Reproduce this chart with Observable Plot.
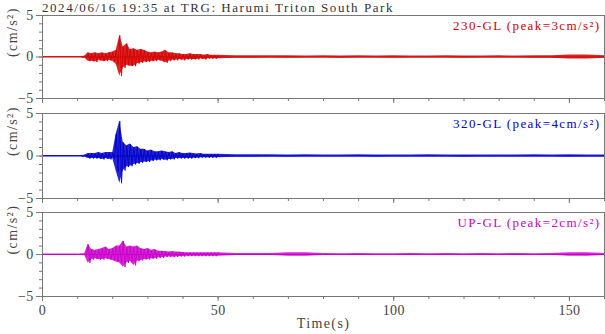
<!DOCTYPE html>
<html>
<head>
<meta charset="utf-8">
<script src="https://cdn.jsdelivr.net/npm/d3@7"></script>
<script src="https://cdn.jsdelivr.net/npm/@observablehq/plot@0.6"></script>
<style>
  html, body { margin: 0; padding: 0; background: #fff; }
  #wrap { position: relative; width: 605px; height: 334px; }
  #wrap svg { position: absolute; left: 0; overflow: visible; }
  #wrap svg text { letter-spacing: 1.4px; font-family: 'Liberation Serif', 'DejaVu Serif', serif; }
  #wrap svg g[aria-label$="tick label"] text { letter-spacing: 0.3px; font-size: 14px; }
  #title { position: absolute; left: 42px; top: 0px; line-height: 13px; font: 13px 'Liberation Serif', 'DejaVu Serif', serif; letter-spacing: 1.55px; color: #333; white-space: nowrap; }
</style>
</head>
<body>
<div id="wrap"><div id="title">2024/06/16 19:35 at TRG: Harumi Triton South Park</div></div>
<script>
// Sample times (s)
const times = [0, 5, 10, 11, 12, 13, 14, 15, 16, 17, 18, 19, 20, 21, 22, 23, 24, 25, 26, 27, 28, 29, 30,
  31, 32, 33, 34, 35, 36, 37, 38, 39, 40, 41, 42, 43, 44, 45, 46, 47, 48, 49, 50,
  55, 60, 65, 70, 75, 80, 85, 90, 95, 100, 105, 110, 115, 120, 125, 130, 135, 140, 145, 150, 155, 160];

// 230-GL envelope (cm/s^2)
const upper230 = [0.05, 0.05, 0.05, 0.05, 0.1, 0.5, 0.4, 0.5, 0.4, 0.5, 0.4, 0.5, 0.6, 0.8, 2.6, 1.2, 1.6, 0.9, 1.0, 0.8, 0.9, 0.8, 0.6,
  0.5, 0.6, 0.5, 0.6, 0.8, 0.5, 0.5, 0.4, 0.4, 0.3, 0.3, 0.4, 0.3, 0.3, 0.3, 0.2, 0.3, 0.2, 0.2, 0.2,
  0.15, 0.15, 0.15, 0.15, 0.12, 0.15, 0.12, 0.15, 0.12, 0.15, 0.12, 0.12, 0.15, 0.12, 0.12, 0.15, 0.12, 0.15, 0.15, 0.25, 0.25, 0.15];
const lower230 = [-0.05, -0.05, -0.05, -0.05, -0.1, -0.5, -0.5, -0.6, -0.4, -0.5, -0.5, -0.4, -0.5, -0.9, -2.3, -1.3, -1.0, -1.1, -1.1, -0.8, -0.7, -0.6, -0.6,
  -0.5, -0.5, -0.4, -0.5, -0.7, -0.5, -0.4, -0.4, -0.3, -0.4, -0.3, -0.3, -0.3, -0.3, -0.2, -0.3, -0.2, -0.2, -0.2, -0.2,
  -0.15, -0.15, -0.12, -0.15, -0.12, -0.12, -0.15, -0.12, -0.12, -0.15, -0.12, -0.12, -0.12, -0.15, -0.12, -0.12, -0.12, -0.15, -0.15, -0.25, -0.25, -0.15];

// 320-GL envelope
const upper320 = [0.05, 0.05, 0.05, 0.05, 0.1, 0.3, 0.3, 0.3, 0.4, 0.3, 0.4, 0.4, 0.4, 2.6, 4.1, 1.6, 1.2, 1.4, 1.0, 1.1, 0.8, 0.8, 0.6,
  0.7, 0.5, 0.5, 0.6, 0.5, 0.4, 0.5, 0.3, 0.4, 0.3, 0.3, 0.35, 0.3, 0.25, 0.3, 0.2, 0.2, 0.2, 0.2, 0.2,
  0.15, 0.15, 0.15, 0.12, 0.15, 0.12, 0.12, 0.15, 0.12, 0.12, 0.12, 0.15, 0.12, 0.12, 0.12, 0.12, 0.12, 0.15, 0.12, 0.15, 0.12, 0.12];
const lower320 = [-0.05, -0.05, -0.05, -0.05, -0.1, -0.3, -0.3, -0.3, -0.3, -0.4, -0.3, -0.4, -0.3, -1.8, -3.2, -1.7, -1.3, -1.2, -1.0, -0.9, -0.8, -0.7, -0.7,
  -0.6, -0.5, -0.5, -0.4, -0.5, -0.4, -0.4, -0.3, -0.3, -0.3, -0.3, -0.3, -0.25, -0.25, -0.2, -0.2, -0.2, -0.2, -0.2, -0.2,
  -0.15, -0.15, -0.12, -0.15, -0.12, -0.12, -0.12, -0.12, -0.15, -0.12, -0.12, -0.12, -0.12, -0.15, -0.12, -0.12, -0.12, -0.12, -0.12, -0.15, -0.12, -0.12];

// UP-GL envelope
const upperUP = [0.05, 0.05, 0.05, 0.05, 0.1, 1.2, 0.6, 0.5, 0.6, 0.7, 0.9, 0.6, 0.7, 1.0, 1.0, 1.6, 0.9, 1.0, 0.9, 1.0, 0.7, 0.6, 0.7,
  0.5, 0.6, 0.4, 0.4, 0.35, 0.3, 0.35, 0.3, 0.3, 0.25, 0.2, 0.2, 0.2, 0.2, 0.2, 0.2, 0.2, 0.2, 0.2, 0.2,
  0.12, 0.12, 0.12, 0.2, 0.2, 0.12, 0.1, 0.12, 0.1, 0.1, 0.12, 0.1, 0.12, 0.1, 0.12, 0.1, 0.12, 0.1, 0.12, 0.2, 0.2, 0.12];
const lowerUP = [-0.05, -0.05, -0.05, -0.05, -0.1, -1.0, -0.6, -0.5, -0.6, -0.6, -0.5, -0.6, -0.7, -0.9, -1.0, -1.5, -1.0, -0.8, -1.3, -0.8, -0.7, -0.6, -0.6,
  -0.5, -0.5, -0.4, -0.4, -0.3, -0.3, -0.3, -0.3, -0.25, -0.25, -0.2, -0.2, -0.2, -0.2, -0.2, -0.2, -0.2, -0.2, -0.2, -0.2,
  -0.12, -0.12, -0.12, -0.2, -0.2, -0.12, -0.1, -0.1, -0.12, -0.1, -0.1, -0.12, -0.1, -0.1, -0.12, -0.1, -0.1, -0.12, -0.1, -0.2, -0.2, -0.12];

const labels = ["230-GL (peak=3cm/s²)", "320-GL (peak=4cm/s²)", "UP-GL (peak=2cm/s²)"];
const colors = ["#d40000", "#0000cc", "#cc00cc"];
const yMajor = [-5, 0, 5];
const yMinor = d3.range(-5, 6, 1);
const xMinor = d3.range(0, 161, 10);
const xMajor = [0, 50, 100, 150];

const font = "'Liberation Serif', 'DejaVu Serif', serif";
const panels = [
  {up: upper230, lo: lower230, top: 0, height: 105, mb: 7},
  {up: upper320, lo: lower320, top: 98, height: 107, mb: 7},
  {up: upperUP, lo: lowerUP, top: 197, height: 137, mb: 38}
];

const wrap = document.getElementById("wrap");
panels.forEach((p, k) => {
  const env = times.map((t, i) => ({t, up: p.up[i], lo: p.lo[i]}));
  const zig = [];
  times.forEach((t, i) => {
    const dt = i < times.length - 1 ? times[i + 1] - t : 0;
    if (t < 11 || t > 50) return;
    zig.push({t, v: p.up[i]});
    if (dt > 0 && dt <= 1) zig.push({t: t + dt / 2, v: p.lo[i]});
  });
  const last = k === 2;
  const chart = Plot.plot({
    width: 605,
    height: p.height,
    marginLeft: 42,
    marginRight: 1,
    marginTop: 15,
    marginBottom: p.mb,
    style: {fontFamily: font, fontSize: "14px", color: "#444", background: "transparent"},
    x: {domain: [0, 160]},
    y: {domain: [-5, 5]},
    marks: [
      Plot.areaY(env, {x: "t", y1: "lo", y2: "up", fill: colors[k], fillOpacity: 0.85}),
      Plot.line(env, {x: "t", y: 0, stroke: colors[k], strokeWidth: 1}),
      Plot.line(zig, {x: "t", y: "v", stroke: colors[k], strokeWidth: 0.9}),
      Plot.frame({stroke: "#777"}),
      Plot.axisY(yMinor, {tickSize: 3, tickFormat: () => "", stroke: "#777", label: null}),
      Plot.axisY(yMajor, {tickSize: 6, tickPadding: 3, stroke: "#777", fill: "#444", fontSize: 14, fontFamily: font, label: null}),
      Plot.axisX(xMinor, {tickSize: 3, tickFormat: () => "", stroke: "#777", label: null}),
      Plot.axisX(xMajor, {tickSize: 5, tickPadding: 4, stroke: "#777", fill: "#444", fontSize: 14, fontFamily: font, label: null,
        tickFormat: last ? (d => String(d)) : () => ""}),
      Plot.text([labels[k]], {frameAnchor: "top-right", dx: -4, dy: 5, fill: colors[k], fontSize: 13, fontFamily: font}),
      Plot.text(["(cm/s²)"], {frameAnchor: "left", dx: -30, rotate: -90, fill: "#444", fontSize: 14, fontFamily: font}),
      ...(last ? [Plot.text(["Time(s)"], {frameAnchor: "bottom", dy: 31, fill: "#444", fontSize: 14, fontFamily: font})] : [])
    ]
  });
  chart.style.top = p.top + "px";
  wrap.appendChild(chart);
});
</script>
</body>
</html>
